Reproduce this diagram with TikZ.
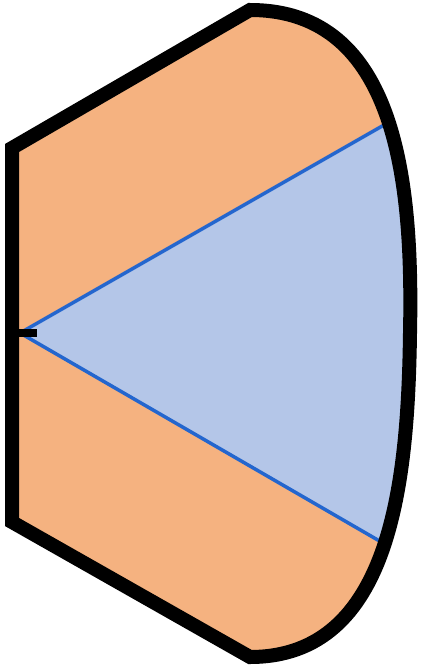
\documentclass[tikz,border=0pt]{standalone}
\definecolor{sectororange}{RGB}{245,178,128}
\definecolor{beamblue}{RGB}{180,198,232}
\definecolor{beamline}{RGB}{36,102,206}
\tikzset{
  outline/.style={line width=14pt,black,line join=miter},
  beamedge/.style={line width=3.5pt,beamline}
}
\begin{document}
\begin{tikzpicture}[x=1pt,y=-1pt]
            \useasboundingbox (0,0) rectangle (422,666);
            \coordinate (apex) at (20,333);
            \coordinate (hi) at (440,93);
            \coordinate (lo) at (440,576);
            % housing
            \def\housing{(12,148) -- (250,10) .. controls (398,10) and (413,185) .. (410,333) .. controls (408,480) and (392,657) .. (250,657) -- (12,522) -- cycle}
            \fill[sectororange] \housing;
            \begin{scope}
                \clip \housing;
                \fill[beamblue] (apex) -- (hi) -- (lo) -- cycle;
                \draw[beamedge] (apex) -- (hi);
                \draw[beamedge] (apex) -- (lo);
            \end{scope}
            \draw[outline] \housing;
            \draw[line width=8pt] (12,333) -- (37,333);
        \end{tikzpicture}
\end{document}
